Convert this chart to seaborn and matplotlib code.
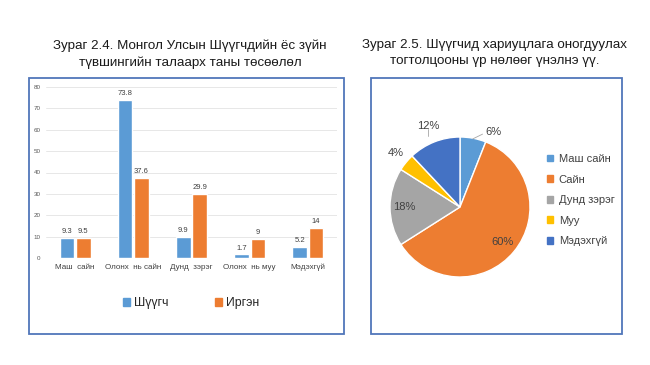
import matplotlib.pyplot as plt
import numpy as np
import pandas as pd
import seaborn as sns
from matplotlib.patches import Rectangle, Patch

# left chart data
categories = ["Маш  сайн", "Олонх  нь сайн", "Дунд  зэрэг", "Олонх  нь муу", "Мэдэхгүй"]
judges = [9.3, 73.8, 9.9, 1.7, 5.2]
citizens = [9.5, 37.6, 29.9, 9, 14]
series = ["Шүүгч", "Иргэн"]

# right chart data
pie_labels = ["Маш сайн", "Сайн", "Дунд зэрэг", "Муу", "Мэдэхгүй"]
pie_values = [6, 60, 18, 4, 12]

bar_colors = ["#5B9BD5", "#ED7D31"]
pie_colors = ["#5B9BD5", "#ED7D31", "#A5A5A5", "#FFC000", "#4472C4"]

sns.set_theme(style="white")
plt.rcParams['font.family'] = ['Liberation Sans', 'DejaVu Sans']

W, H = 650, 365
fig = plt.figure(figsize=(6.5, 3.65), dpi=100)


def px(x, y):
    return x / W, 1 - y / H


def box(x0, y0, x1, y1):
    fig.patches.append(Rectangle(px(x0, y1), (x1 - x0) / W, (y1 - y0) / H,
                                 transform=fig.transFigure, fill=False,
                                 ec='#5076ba', lw=1.3))


box(29, 78, 344, 334)
box(371, 78, 622, 334)

# titles
tkw = dict(ha='center', va='baseline', fontsize=9.6, color='#1a1a1a')
fig.text(*px(190, 49), "Зураг 2.4. Монгол Улсын Шүүгчдийн ёс зүйн", **tkw)
fig.text(*px(190, 66), "түвшингийн талаарх таны төсөөлөл", **tkw)
fig.text(*px(495, 48), "Зураг 2.5. Шүүгчид хариуцлага оногдуулах", **tkw)
fig.text(*px(495, 64), "тогтолцооны үр нөлөөг үнэлнэ үү.", **tkw)

# bar chart
df = pd.DataFrame({
    'cat': categories * 2,
    'group': [series[0]] * len(categories) + [series[1]] * len(categories),
    'val': judges + citizens,
})
ax = fig.add_axes([46 / W, 1 - 258 / H, 291 / W, 171 / H])
sns.barplot(df, x='cat', y='val', hue='group', palette=bar_colors,
            width=0.56, gap=0.1, ax=ax, legend=False, saturation=1)
for c in ax.containers:
    ax.bar_label(c, fmt='%g', fontsize=5.5, color='#404040', padding=2)
ax.set_ylim(0, 80)
ax.set_yticks(range(0, 81, 10))
ax.set_xlabel('')
ax.set_ylabel('')
ax.grid(axis='y', color='#e3e3e3', lw=0.6)
ax.set_axisbelow(True)
sns.despine(ax=ax, left=True, bottom=True)
ax.tick_params(axis='y', labelsize=4.5, colors='#595959', length=0, pad=4)
ax.tick_params(axis='x', labelsize=5.8, colors='#404040', length=0, pad=4)
ax.axhline(0, color='#d9d9d9', lw=0.6)

handles = [Patch(color=c, label=s) for c, s in zip(bar_colors, series)]
fig.legend(handles=handles, loc='center', bbox_to_anchor=px(191, 303), ncol=2,
           frameon=False, fontsize=8.8, handlelength=0.6, handleheight=0.6,
           handletextpad=0.3, columnspacing=3.8, labelcolor='#262626')

# pie chart
pax = fig.add_axes([390 / W, 1 - 277 / H, 140 / W, 140 / H])
wedges, _ = pax.pie(pie_values, colors=pie_colors, startangle=90, counterclock=False,
                    wedgeprops=dict(edgecolor='white', linewidth=1))
pax.set_xlim(-1, 1)
pax.set_ylim(-1, 1)
pax.set_aspect('equal')
pax.axis('off')

dists = [1.17, 0.78, 0.8, 1.2, 1.25]
shift = [-13, 0, 0, 0, 0]
total = sum(pie_values)
for w, v, d, s in zip(wedges, pie_values, dists, shift):
    mid = np.deg2rad((w.theta1 + w.theta2) / 2 + s)
    tx, ty = d * np.cos(mid), d * np.sin(mid)
    pax.text(tx, ty, f"{round(100 * v / total)}%", ha='center', va='center',
             fontsize=8, color='#404040')

# leader lines for the two small outer labels
m0 = np.deg2rad((wedges[0].theta1 + wedges[0].theta2) / 2)
pax.plot([0.97 * np.cos(m0), 1.08 * np.cos(m0) + 0.12], [0.99 * np.sin(m0), 1.06 * np.sin(m0)],
         color='#a6a6a6', lw=0.6, clip_on=False)
m4 = np.deg2rad((wedges[4].theta1 + wedges[4].theta2) / 2)
pax.plot([1.25 * np.cos(m4), 1.25 * np.cos(m4)], [1.02, 1.12], color='#a6a6a6', lw=0.6, clip_on=False)

ph = [Patch(color=c, label=l) for c, l in zip(pie_colors, pie_labels)]
fig.legend(handles=ph, loc='upper left', bbox_to_anchor=px(537, 144), frameon=False,
           fontsize=8, handlelength=0.55, handleheight=0.55, handletextpad=0.5,
           labelspacing=0.95, labelcolor='#404040')

fig.savefig('out.png', dpi=100, facecolor='white')
